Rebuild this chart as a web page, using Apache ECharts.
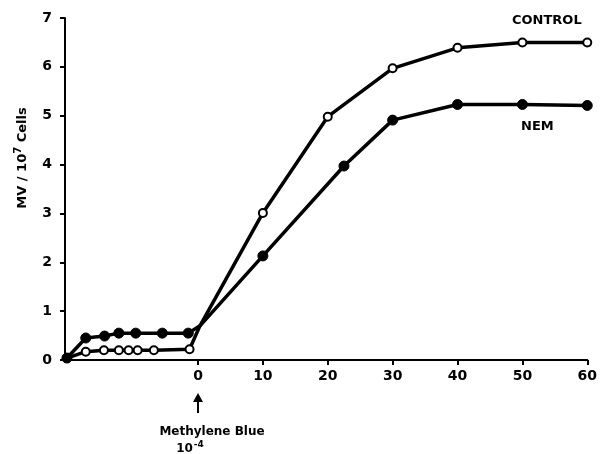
<!DOCTYPE html>
<html>
<head>
<meta charset="utf-8">
<script src="https://cdn.jsdelivr.net/npm/echarts@6/dist/echarts.min.js"></script>
<style>
  html, body { margin: 0; padding: 0; background: #fff; }
  #chart { width: 600px; height: 454px; }
</style>
</head>
<body>
<div id="chart"></div>
<script>
// time in minutes (0 = methylene blue added), values in MV / 10^7 cells
var controlTime  = [-20.2, -17.3, -14.5, -12.2, -10.7, -9.3, -6.8, -1.3, 0.3, 10, 20, 30, 40, 50, 60];
var controlValue = [0.04, 0.17, 0.2, 0.2, 0.2, 0.2, 0.2, 0.22, 0.7, 3.01, 4.98, 5.97, 6.39, 6.5, 6.5];
var nemTime  = [-20.2, -17.3, -14.4, -12.2, -9.6, -5.5, -1.5, 0.3, 10, 22.5, 30, 40, 50, 60];
var nemValue = [0.04, 0.45, 0.49, 0.55, 0.55, 0.55, 0.55, 0.7, 2.13, 3.97, 4.91, 5.23, 5.23, 5.21];
var xTicks = [0, 10, 20, 30, 40, 50, 60];
var yTicks = [0, 1, 2, 3, 4, 5, 6, 7];
var junctionTime = 0.3; // the two curves meet here, no marker drawn

var font = 'DejaVu Sans';

function toData(times, values) {
  return times.map(function (t, i) {
    if (t === junctionTime) return { value: [t, values[i]], symbol: 'none' };
    return [t, values[i]];
  });
}

var chart = echarts.init(document.getElementById('chart'));

var option = {
  animation: false,
  backgroundColor: '#fff',
  grid: { left: 65, right: 12, top: 18, bottom: 94 },
  xAxis: {
    type: 'value',
    min: -20.5,
    max: 60,
    splitLine: { show: false },
    axisLine: { onZero: false, lineStyle: { color: '#000', width: 2 } },
    axisTick: { customValues: xTicks, length: 5, lineStyle: { color: '#000', width: 2 } },
    axisLabel: {
      customValues: xTicks,
      color: '#000', fontFamily: font, fontWeight: 'bold', fontSize: 14, margin: 9
    }
  },
  yAxis: {
    type: 'value',
    min: 0,
    max: 7,
    splitLine: { show: false },
    axisLine: { show: true, onZero: false, lineStyle: { color: '#000', width: 2 } },
    axisTick: { show: true, customValues: yTicks, length: 5, lineStyle: { color: '#000', width: 2 } },
    axisLabel: {
      customValues: yTicks,
      color: '#000', fontFamily: font, fontWeight: 'bold', fontSize: 14, margin: 13
    }
  },
  series: [
    {
      name: 'CONTROL',
      type: 'line',
      data: toData(controlTime, controlValue),
      symbol: 'circle',
      symbolSize: 8,
      showAllSymbol: true,
      lineStyle: { color: '#000', width: 3.5 },
      itemStyle: { color: '#fff', borderColor: '#000', borderWidth: 2 },
      z: 2
    },
    {
      name: 'NEM',
      type: 'line',
      data: toData(nemTime, nemValue),
      symbol: 'circle',
      symbolSize: 10,
      showAllSymbol: true,
      lineStyle: { color: '#000', width: 3.5 },
      itemStyle: { color: '#000', borderColor: '#000', borderWidth: 1 },
      z: 3
    }
  ],
  graphic: [
    {
      type: 'text', left: 512, top: 14,
      style: { text: 'CONTROL', fill: '#000', font: 'bold 13px "DejaVu Sans"' }
    },
    {
      type: 'text', left: 521, top: 120,
      style: { text: 'NEM', fill: '#000', font: 'bold 13px "DejaVu Sans"' }
    },
    {
      type: 'text',
      x: 21, y: 158,
      rotation: Math.PI / 2,
      style: {
        text: '{b|MV / 10}{s|7}{b| Cells}',
        fill: '#000',
        align: 'center',
        verticalAlign: 'middle',
        rich: {
          b: { fontFamily: font, fontWeight: 'bold', fontSize: 13, fill: '#000', verticalAlign: 'bottom' },
          s: { fontFamily: font, fontWeight: 'bold', fontSize: 10, fill: '#000', verticalAlign: 'top', padding: [0, 0, 6, 0] }
        }
      }
    },
    {
      type: 'line',
      shape: { x1: 198, y1: 400, x2: 198, y2: 413 },
      style: { stroke: '#000', lineWidth: 2 }
    },
    {
      type: 'polygon',
      shape: { points: [[198, 393], [193, 402], [203, 402]] },
      style: { fill: '#000' }
    },
    {
      type: 'text', x: 212, y: 432,
      style: { text: 'Methylene Blue', fill: '#000', font: 'bold 12px "DejaVu Sans"', align: 'center', verticalAlign: 'middle' }
    },
    {
      type: 'text', x: 190, y: 449,
      style: {
        text: '{b|10}{s|-4}',
        align: 'center',
        verticalAlign: 'middle',
        rich: {
          b: { fontFamily: font, fontWeight: 'bold', fontSize: 12, fill: '#000' },
          s: { fontFamily: font, fontWeight: 'bold', fontSize: 9, fill: '#000', padding: [0, 0, 8, 1] }
        }
      }
    }
  ]
};

chart.setOption(option);
</script>
</body>
</html>
